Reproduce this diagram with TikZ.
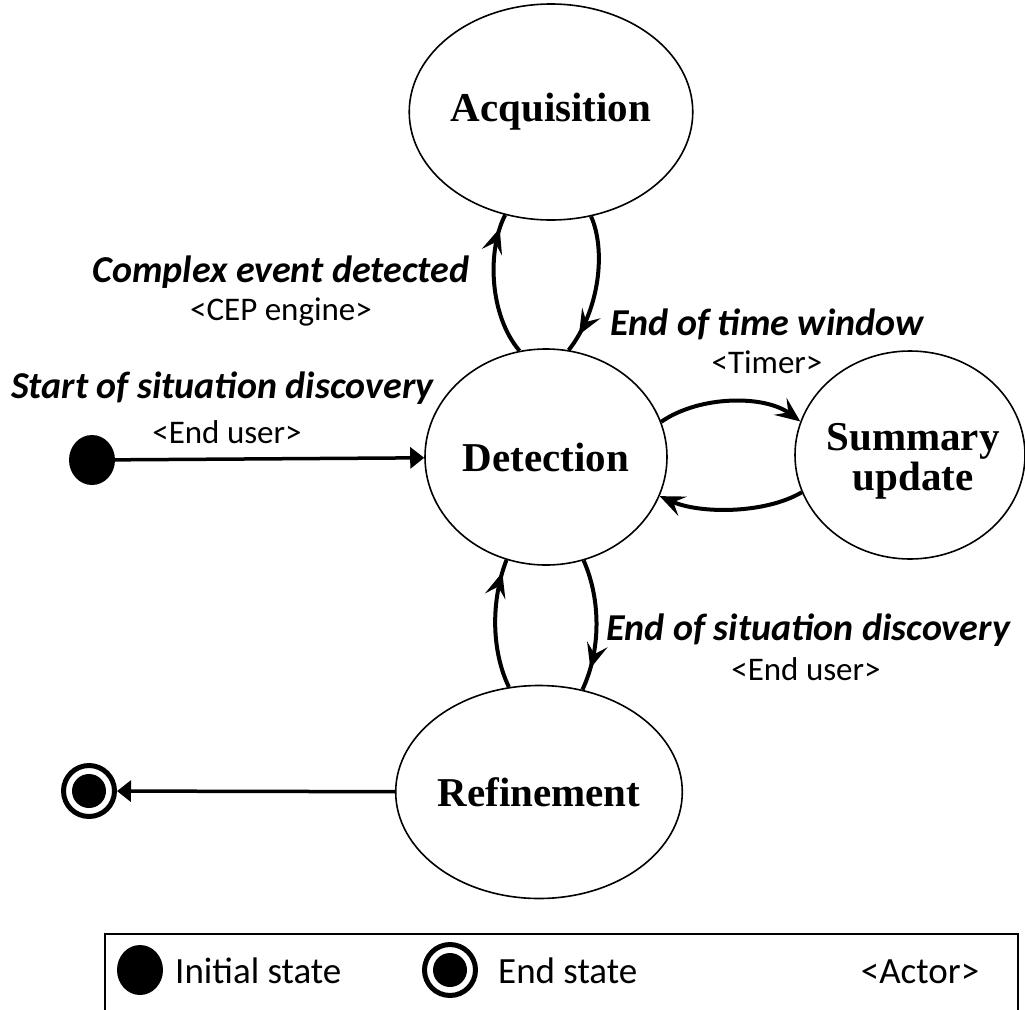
\documentclass[tikz,border=0pt]{standalone}
\usepackage{fontspec}
\setmainfont{Liberation Serif}
\newfontfamily\labfont{Carlito}
\usetikzlibrary{arrows.meta,decorations.markings,shapes.geometric}
\begin{document}
\begin{tikzpicture}[x=1pt,y=-1pt,
  state/.style={draw, ellipse, line width=1.6pt, inner sep=0pt, align=center,
    font=\fontsize{41}{40}\selectfont\bfseries},
  trans/.style={line width=4pt, postaction={decorate},
    decoration={markings, mark=at position #1 with {\arrow{Stealth[length=25pt,width=21pt,inset=10pt]}}}},
  tip/.style={line width=4pt, -{Stealth[length=25pt,width=21pt,inset=10pt]}},
  strtip/.style={line width=3.5pt,-{Triangle[length=14pt,width=21pt]}},
  evlab/.style={font=\labfont\fontsize{38}{40}\selectfont\bfseries\itshape, inner sep=0pt},
  actlab/.style={font=\labfont\fontsize{33}{36}\selectfont, inner sep=0pt},
  leglab/.style={font=\labfont\fontsize{37}{40}\selectfont, inner sep=0pt},
  initst/.style={ellipse, fill=black, minimum width=46pt, minimum height=50pt, inner sep=0pt, outer sep=0pt},
  endst/.style={circle, draw, line width=5pt, minimum size=51pt, inner sep=0pt,
    path picture={\fill (path picture bounding box.center) circle (17pt);}},
]
\useasboundingbox (0,0) rectangle (1025,1009);

% states
\node[state, minimum width=252pt, minimum height=216pt] (acq) at (551,112) {Acquisition};
\node[state, minimum width=242pt, minimum height=216pt] (det) at (546,457) {Detection};
\node[state, minimum width=230pt, minimum height=208pt] (sum) at (910,455) {};
\node[font=\fontsize{41}{40}\selectfont\bfseries, anchor=base, inner sep=0pt] (sumt1) at (913,450) {Summary};
\node[font=\fontsize{41}{40}\selectfont\bfseries, anchor=base, inner sep=0pt] (sumt2) at (913,490) {update};
\node[state, minimum width=278pt, minimum height=213pt] (ref) at (539,792) {Refinement};
\node[initst] (init) at (92,460) {};
\node[endst] (fin) at (89,791) {};

% transitions
\draw[trans=0.9] (det.104) .. controls (489,315) and (487,250) .. (acq.246);
\draw[trans=0.87] (acq.291) .. controls (606,250) and (600,310) .. (det.78);
\draw[tip] (det.17) .. controls (700,395) and (765,395) .. (sum.163);
\draw[tip] (sum.199) .. controls (765,514) and (700,514) .. (det.341);
\draw[trans=0.83] (det.290) .. controls (601,600) and (601,650) .. (ref.67.5);
\draw[trans=0.9] (ref.106) .. controls (491,650) and (491,600) .. (det.249);
\draw[strtip] (init) -- (det);
\draw[strtip] (ref) -- (fin);

% labels
\node[evlab, anchor=base] (l1) at (281,282) {Complex event detected};
\node[actlab, anchor=base] (l1a) at (281,320) {<CEP engine>};
\node[evlab, anchor=base west] (l2) at (11,398) {Start of situation discovery};
\node[actlab, anchor=base] (l2a) at (227,443) {<End user>};
\node[evlab, anchor=base west] (l3) at (610,335) {End of time window};
\node[actlab, anchor=base] (l3a) at (767,373) {<Timer>};
\node[evlab, anchor=base west] (l4) at (606,640) {End of situation discovery};
\node[actlab, anchor=base] (l4a) at (806,680) {<End user>};

% legend
\draw[line width=1.2pt] (105,934) rectangle (1018,1040);
\node[initst] (leginit) at (140,970) {};
\node[leglab, anchor=base west] (legt1) at (175,983) {Initial state};
\node[endst] (legend) at (450,970) {};
\node[leglab, anchor=base west] (legt2) at (498,983) {End state};
\node[leglab, anchor=base] (legt3) at (920,983) {<Actor>};
\end{tikzpicture}
\end{document}
